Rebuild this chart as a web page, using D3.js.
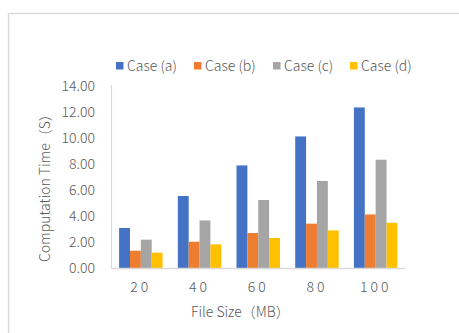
<!DOCTYPE html>
<html>
<head>
<meta charset="utf-8">
<script src="https://cdn.jsdelivr.net/npm/d3@7/dist/d3.min.js"></script>
<style>
  html, body { margin: 0; padding: 0; background: #fff; }
  svg text { font-family: "Noto Sans CJK SC", "Noto Sans", sans-serif; font-weight: 300; fill: #595959; }
</style>
</head>
<body>
<svg id="chart" width="459" height="333"></svg>
<script>
// File sizes (MB) on the x axis
const categories = ["20", "40", "60", "80", "100"];
// Computation time (s) for each case
const seriesNames = ["Case (a)", "Case (b)", "Case (c)", "Case (d)"];
const caseA = [3.08, 5.54, 7.89, 10.12, 12.35];
const caseB = [1.33, 2.02, 2.69, 3.41, 4.12];
const caseC = [2.18, 3.66, 5.23, 6.69, 8.33];
const caseD = [1.18, 1.82, 2.31, 2.89, 3.48];
const seriesValues = [caseA, caseB, caseC, caseD];
const colors = ["#4472C4", "#ED7D31", "#A5A5A5", "#FFC000"];
const yTicks = [0, 2, 4, 6, 8, 10, 12, 14];

const svg = d3.select("#chart");
const FONT = '"Noto Sans CJK SC", sans-serif';

// outer chart frame (top and left edges)
svg.append("line").attr("x1", 8).attr("x2", 459).attr("y1", 13.5).attr("y2", 13.5)
  .attr("stroke", "#D9D9D9").attr("stroke-width", 1.5);
svg.append("line").attr("x1", 8.5).attr("x2", 8.5).attr("y1", 13).attr("y2", 333)
  .attr("stroke", "#D9D9D9").attr("stroke-width", 1.5);

const plot = { left: 111.5, right: 405, top: 86, bottom: 268 };

const x = d3.scaleBand().domain(categories).range([plot.left, plot.right]).paddingInner(0).paddingOuter(0);
const y = d3.scaleLinear().domain([0, 14]).range([plot.bottom, plot.top]);

// bar group layout: gap between clusters is 140% of one bar width
const barW = x.bandwidth() / (seriesNames.length + 1.4);
const x1 = d3.scaleBand().domain(d3.range(seriesNames.length))
  .range([0, barW * seriesNames.length]);
const groupOffset = (x.bandwidth() - barW * seriesNames.length) / 2;

// y axis line
svg.append("line").attr("x1", plot.left).attr("x2", plot.left)
  .attr("y1", plot.top - 1).attr("y2", plot.bottom)
  .attr("stroke", "#D9D9D9").attr("stroke-width", 1.2);

// y tick labels
const yAxis = d3.axisLeft(y).tickValues(yTicks).tickFormat(d3.format(".2f")).tickSize(0).tickPadding(0);
const gy = svg.append("g").attr("transform", `translate(${95},0)`).call(yAxis);
gy.select(".domain").remove();
gy.selectAll("text").attr("font-size", 14).attr("fill", "#595959")
  .style("font-family", FONT).style("font-weight", 300);

// bars
seriesValues.forEach((vals, si) => {
  svg.append("g").selectAll("rect").data(vals).join("rect")
    .attr("x", (d, i) => x(categories[i]) + groupOffset + x1(si))
    .attr("width", barW)
    .attr("y", d => y(d))
    .attr("height", d => y(0) - y(d))
    .attr("fill", colors[si]);
});

// x axis line
svg.append("line").attr("x1", plot.left).attr("x2", plot.right)
  .attr("y1", plot.bottom + 0.5).attr("y2", plot.bottom + 0.5)
  .attr("stroke", "#D9D9D9").attr("stroke-width", 1.5);

// x tick labels
const xAxis = d3.axisBottom(x).tickSize(0).tickPadding(0);
const gx = svg.append("g").attr("transform", `translate(0,${292})`).call(xAxis);
gx.select(".domain").remove();
gx.selectAll("text").attr("font-size", 14).attr("fill", "#595959").attr("dy", 0)
  .style("letter-spacing", "3px")
  .style("font-family", FONT).style("font-weight", 300);

// axis titles
svg.append("text").attr("x", 191).attr("y", 317).attr("font-size", 14).text("File Size（MB）");
svg.append("text").attr("transform", "translate(50,262) rotate(-90)")
  .attr("font-size", 14).text("Computation Time（S）");

// legend
const legendX = [116, 194, 273, 350];
const legend = svg.append("g");
seriesNames.forEach((name, i) => {
  legend.append("rect").attr("x", legendX[i]).attr("y", 62).attr("width", 7.5).attr("height", 7.5)
    .attr("fill", colors[i]);
  legend.append("text").attr("x", legendX[i] + 11).attr("y", 71).attr("font-size", 14).text(name);
});
</script>
</body>
</html>
